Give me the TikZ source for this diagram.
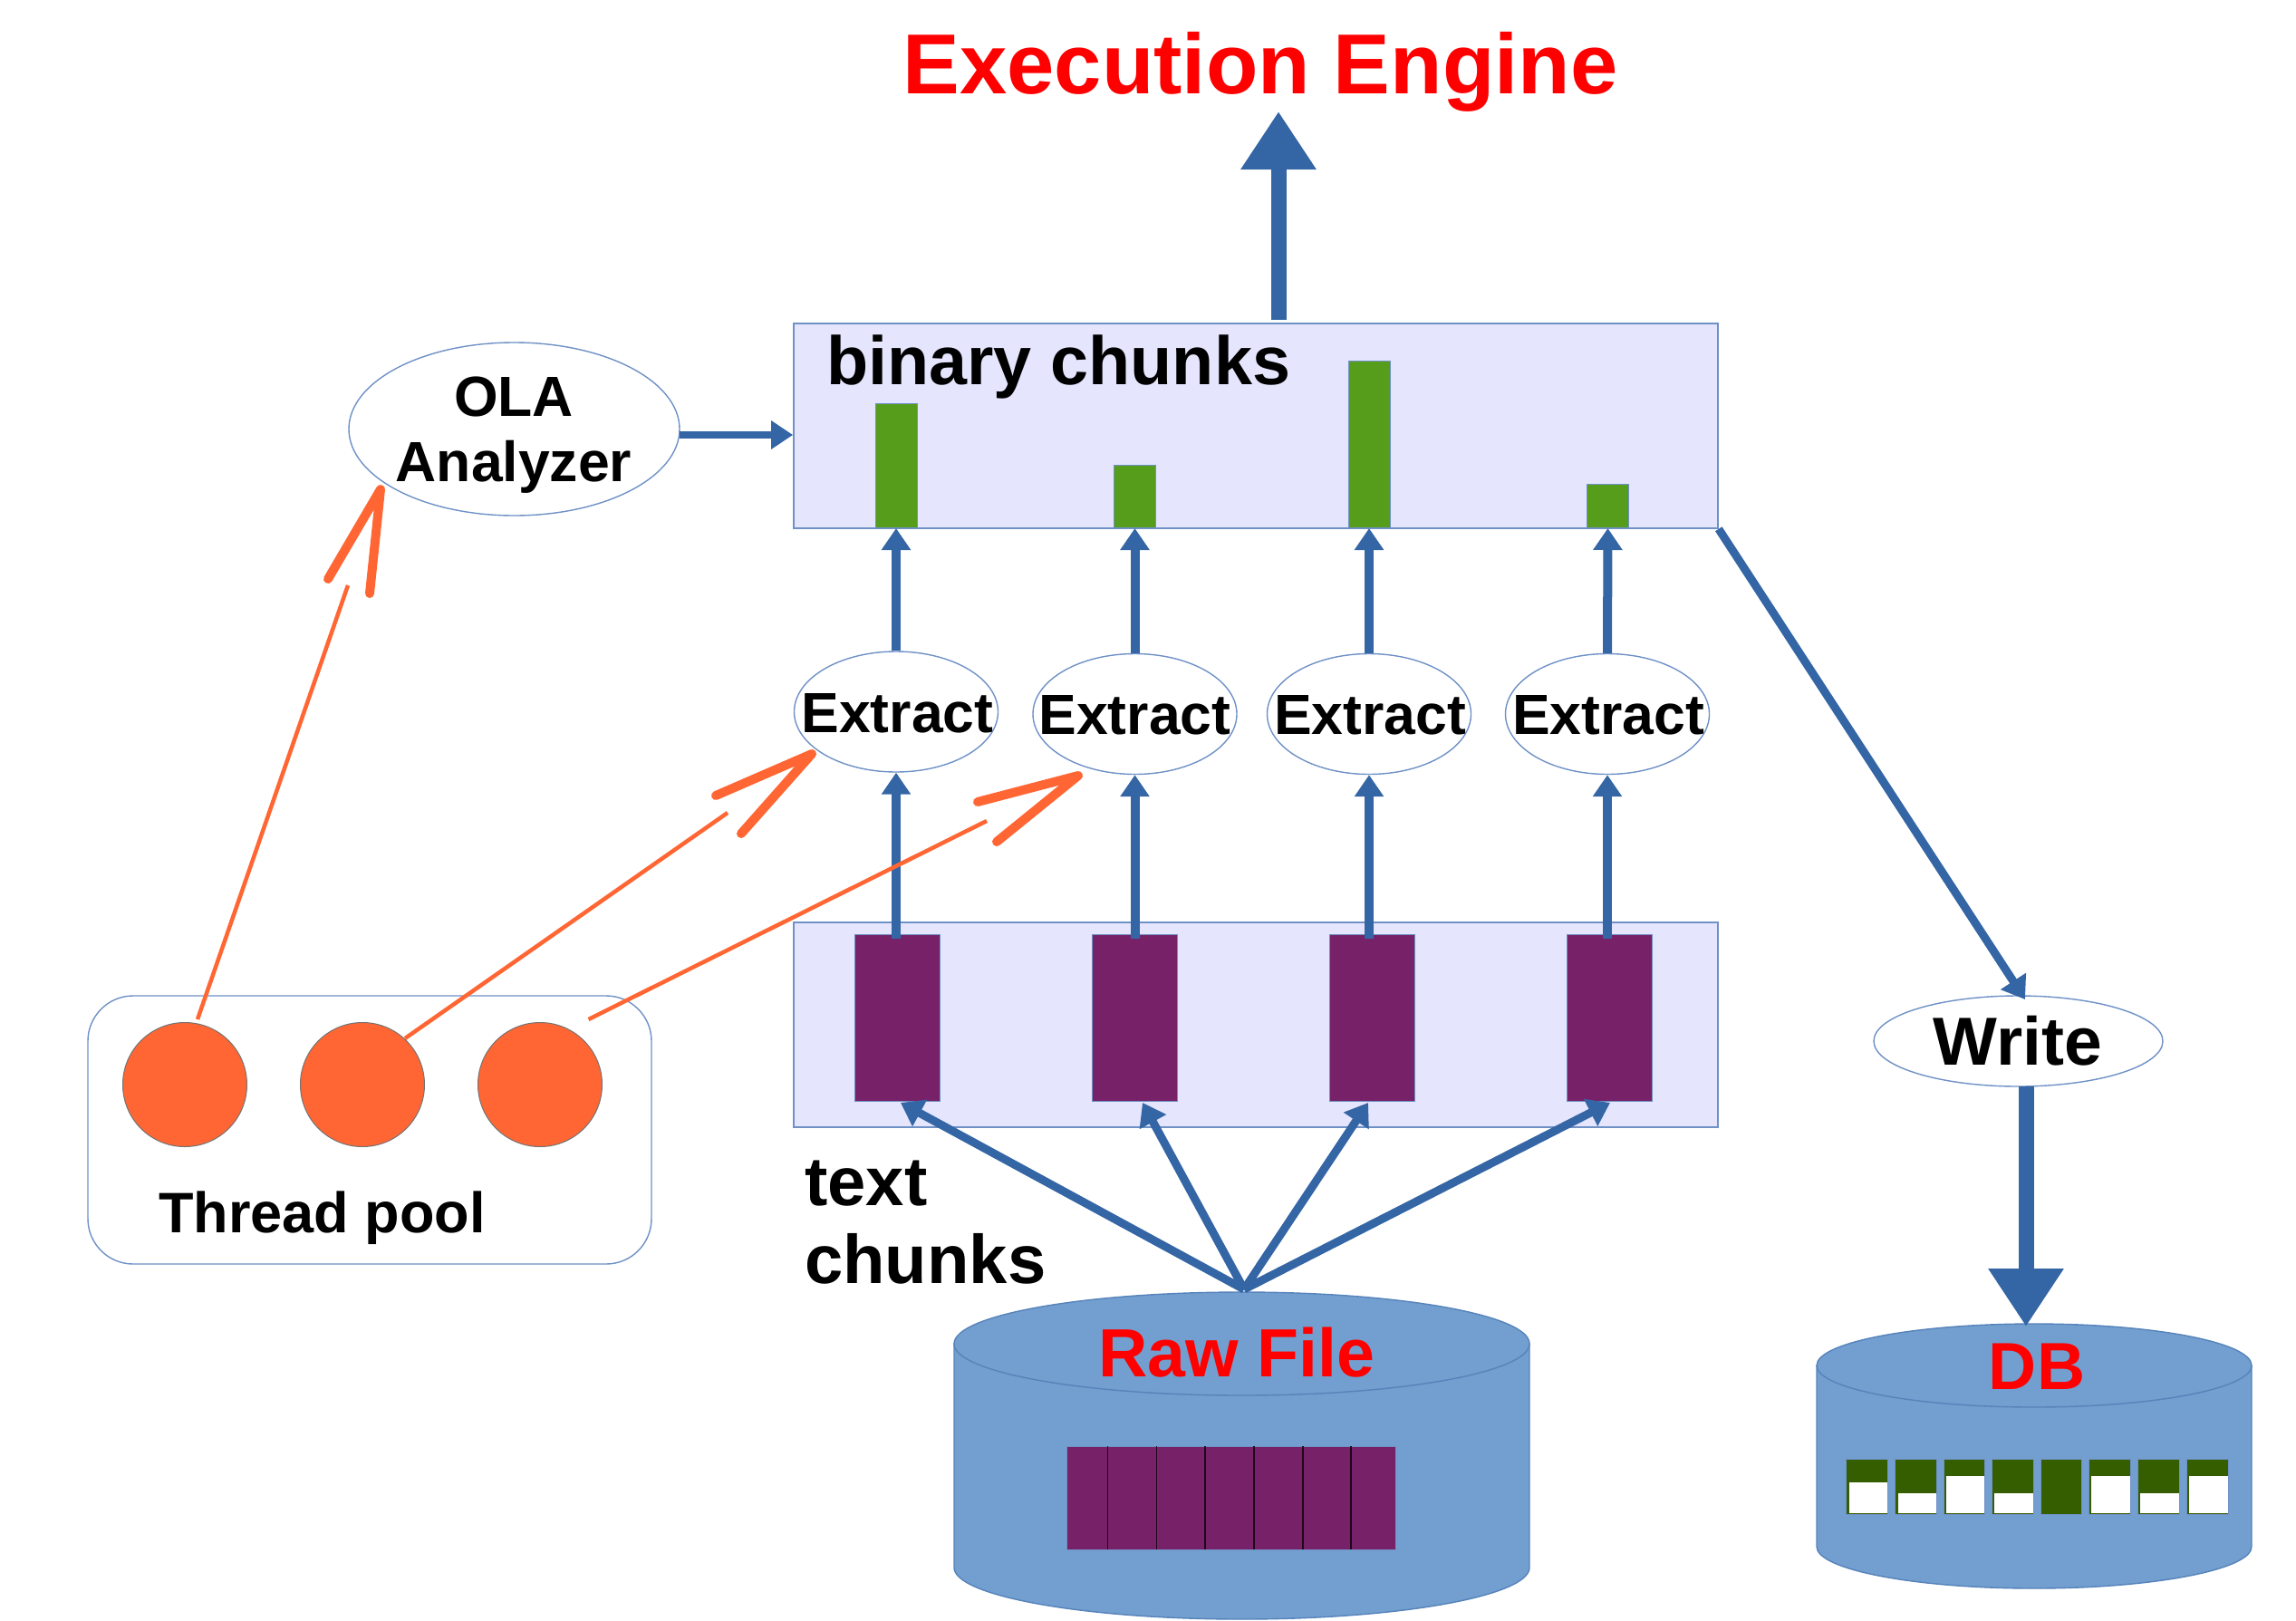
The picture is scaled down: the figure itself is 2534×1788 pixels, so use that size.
\documentclass[tikz,border=0pt]{standalone}
\usepackage{fontspec}
\setmainfont{Liberation Sans}
\usetikzlibrary{arrows.meta,shapes.geometric}
\definecolor{linkblue}{HTML}{3465A4}
\definecolor{edgeblue}{HTML}{6F91C6}
\definecolor{panel}{HTML}{E5E5FD}
\definecolor{cyl}{HTML}{729FCF}
\definecolor{cyledge}{HTML}{5683BA}
\definecolor{plum}{HTML}{772268}
\definecolor{grass}{HTML}{579D1C}
\definecolor{moss}{HTML}{355E00}
\definecolor{tang}{HTML}{FF6633}
\newcommand{\fs}[1]{\fontsize{#1}{#1}\selectfont\bfseries}
\tikzset{
  x=1pt,y=-1pt,
  lbl/.style={inner sep=0pt,anchor=base,text=black},
  panelbox/.style={draw=edgeblue,fill=panel,line width=1.6pt,minimum width=1020pt,minimum height=226pt,inner sep=0pt},
  blob/.style={draw=edgeblue,fill=white,ellipse,line width=1.4pt,inner sep=0pt},
  extr/.style={blob,minimum width=225pt,minimum height=133pt},
  extrtext/.style={lbl,font=\fs{62.5}},
  tchunk/.style={draw=edgeblue,fill=plum,line width=1pt,minimum width=94pt,minimum height=184pt,inner sep=0pt},
  bchunk/.style={draw=edgeblue,fill=grass,line width=1pt,anchor=south,minimum width=46pt,inner sep=0pt},
  worker/.style={circle,draw=black!55,fill=tang,line width=1pt,minimum size=137pt,inner sep=0pt},
  up/.style={draw=linkblue,line width=10pt,-{Triangle[width=31pt,length=24pt]}},
  fan/.style={draw=linkblue,line width=9pt,-{Triangle[width=32pt,length=24pt]}},
  thick link/.style={draw=linkblue,line width=17pt,-{Triangle[width=79pt,length=64pt]}},
  cylbody/.style={fill=cyl,draw=cyledge,line width=1.4pt},
  thin/.style={draw=tang,line width=4.5pt},
  vee/.style={draw=tang,line width=10pt,line cap=round,line join=round},
  slot/.style={fill=moss,draw=edgeblue,line width=1pt},
  hole/.style={fill=white}
}
\begin{document}
\begin{tikzpicture}
\useasboundingbox (0,0) rectangle (2534,1788);

% panels
\node[panelbox] (bin) at (1386,470) {};
\node[panelbox] (txt) at (1386,1131) {};
\node[lbl,anchor=base west,font=\fs{75.5}] (bintext) at (912,424) {binary chunks};

% binary chunks
\node[bchunk,minimum height=137pt] (g1) at (989,583) {};
\node[bchunk,minimum height=69pt]  (g2) at (1252.5,583) {};
\node[bchunk,minimum height=184pt] (g3) at (1511,583) {};
\node[bchunk,minimum height=48pt]  (g4) at (1774.5,583) {};

% text chunks
\node[tchunk] (t1) at (990.5,1123) {};
\node[tchunk] (t2) at (1252.5,1123) {};
\node[tchunk] (t3) at (1514,1123) {};
\node[tchunk] (t4) at (1776,1123) {};

% extract ellipses
\node[extr] (e1) at (989,785.5) {};
\node[extr] (e2) at (1252.5,788) {};
\node[extr] (e3) at (1511,788) {};
\node[extr] (e4) at (1774,788) {};
\node[extrtext] (x1) at (990.5,808.5) {Extract};
\node[extrtext] (x2) at (1252.5,810) {Extract};
\node[extrtext] (x3) at (1512,810) {Extract};
\node[extrtext] (x4) at (1775,810) {Extract};

% OLA
\node[blob,minimum width=365pt,minimum height=191pt] (ola) at (567.5,473.5) {};
\node[lbl,font=\fs{62.5}] (olaA) at (567,459.5) {OLA};
\node[lbl,font=\fs{62.5}] (olaB) at (567,531.5) {Analyzer};

% Write
\node[blob,minimum width=319pt,minimum height=100pt] (write) at (2227.5,1149) {};
\node[lbl,font=\fs{75}] (writetext) at (2227,1175) {Write};

% title
\node[lbl,font=\fs{94},text=red] (title) at (1391,103) {Execution Engine};

% thread pool
\node[draw=edgeblue,fill=white,line width=1.4pt,rounded corners=50pt,minimum width=622pt,minimum height=296pt,inner sep=0pt] (pool) at (408,1247) {};
\node[worker] (w1) at (204,1197) {};
\node[worker] (w2) at (400,1197) {};
\node[worker] (w3) at (596,1197) {};
\node[lbl,anchor=base west,font=\fs{63}] (pooltext) at (175,1360.5) {Thread pool};

% text chunks label
\node[lbl,anchor=base west,font=\fs{76}] (tctext) at (888,1330) {text};
\node[lbl,anchor=base west,font=\fs{76}] (tctext2) at (888,1416) {chunks};

% raw file cylinder
\path[cylbody] (1053,1483) -- (1053,1730) .. controls (1053,1761) and (1195,1787) .. (1370.5,1787) .. controls (1546,1787) and (1688,1761) .. (1688,1730) -- (1688,1483) -- cycle;
\path[cylbody] (1370.5,1483) ellipse [x radius=317.5,y radius=57];
\fill[plum] (1177.5,1596) rectangle (1540,1710);
\draw[edgeblue,line width=1pt] (1177.5,1596) rectangle (1540,1710);
\foreach \dx in {1222.5,1276.5,1330,1384,1438,1491} \draw[black!75!plum,line width=1.4pt] (\dx,1596) -- (\dx,1710);
\node[lbl,font=\fs{75.3},text=red] (rawtext) at (1365,1519) {Raw File};

% DB cylinder
\path[cylbody] (2005,1507) -- (2005,1707) .. controls (2005,1732) and (2112,1753) .. (2245,1753) .. controls (2378,1753) and (2485,1732) .. (2485,1707) -- (2485,1507) -- cycle;
\path[cylbody] (2245,1507) ellipse [x radius=240,y radius=46];
\node[lbl,font=\fs{73.5},text=red] (dbtext) at (2248,1533.5) {DB};
\foreach \xa/\xb/\yh in {2037.5/2083/1637,2091.5/2137/1649,2145/2190/1630,2198/2244/1649,2305/2351/1630,2359/2405/1649,2413/2459/1630}{
  \path[slot] (\xa,1610) rectangle (\xb,1671);
  \fill[hole] (\xa+3,\yh-1) rectangle (\xb-0.5,1670);
}
\path[slot] (2252,1610) rectangle (2297.5,1671);

% named free ends
\coordinate (titlefoot) at (1411,123);
\coordinate (binfoot) at (1411,353);
\coordinate (apex) at (1373,1423);
\coordinate (f1) at (994,1217);
\coordinate (f2) at (1261,1217);
\coordinate (f3) at (1510,1217);
\coordinate (f4) at (1777,1217);
\coordinate (wr) at (2235,1103);
\coordinate (wrfoot) at (2236,1199);
\coordinate (dbtop) at (2236,1464);
\coordinate (olaout) at (750,480);

% blue links
\draw[thick link] (binfoot) -- (titlefoot);
\draw[thick link] (wrfoot) -- (dbtop);
\draw[up] (e1.north) -- (g1.south);
\draw[up] (e2.north) -- (g2.south);
\draw[up] (e3.north) -- (g3.south);
\draw[up] (e4.north) -- (g4.south);
\draw[up] (e1.south |- 0,1036) -- (e1.south);
\draw[up] (e2.south |- 0,1036) -- (e2.south);
\draw[up] (e3.south |- 0,1036) -- (e3.south);
\draw[up] (e4.south |- 0,1036) -- (e4.south);
\draw[fan] (apex) -- (f1);
\draw[fan] (apex) -- (f2);
\draw[fan] (apex) -- (f3);
\draw[fan] (apex) -- (f4);
\draw[fan,line width=8pt,-{Triangle[width=30pt,length=24pt]}] (olaout) -- (bin.west |- olaout);
\draw[fan] (bin.south east) -- (wr);

% orange links
\coordinate (a1) at (218,1125);
\coordinate (a2) at (384,646);
\draw[thin] (a1) -- (a2);
\draw[vee] (362,639) -- (420,540) -- (408,655);
\coordinate (b1) at (447,1146);
\coordinate (b2) at (803,897);
\draw[thin] (b1) -- (b2);
\draw[vee] (790,878) -- (896,832) -- (818,920);
\coordinate (c1) at (649.5,1125);
\coordinate (c2) at (1089,906);
\draw[thin] (c1) -- (c2);
\draw[vee] (1079,885) -- (1190,856) -- (1100,929);
\end{tikzpicture}
\end{document}
